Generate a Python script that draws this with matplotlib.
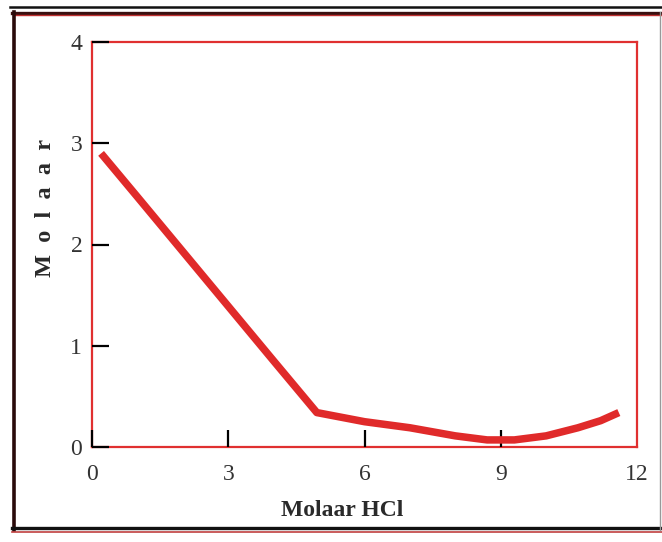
import matplotlib.pyplot as plt
from matplotlib.lines import Line2D

plt.rcParams['font.family'] = ['Liberation Serif', 'DejaVu Serif']

# data
hcl = [0.2, 1.0, 2.0, 3.0, 4.0, 4.95, 6.0, 7.0, 8.0, 8.7, 9.3, 10.0, 10.7, 11.2, 11.6]
molaar = [2.9, 2.47, 1.93, 1.39, 0.85, 0.34, 0.25, 0.19, 0.11, 0.07, 0.07, 0.11, 0.19, 0.26, 0.34]
xticks = [0, 3, 6, 9, 12]
yticks = [0, 1, 2, 3, 4]

W, H = 662, 542
fig = plt.figure(figsize=(W / 100, H / 100), dpi=100)
ax = fig.add_axes([92 / W, 1 - 447 / H, 545 / W, 405 / H])

ax.plot(hcl, molaar, color='#e02a2a', lw=5.4, solid_capstyle='butt', zorder=3)

ax.set_xlim(0, 12)
ax.set_ylim(0, 4)
ax.set_xticks(xticks)
ax.set_yticks(yticks)
ax.tick_params(direction='in', length=12, width=1.6, color='black',
               labelsize=17, labelcolor='#333333')
ax.tick_params(axis='x', pad=12)
ax.tick_params(axis='y', pad=7)
ax.xaxis.get_major_ticks()[-1].tick1line.set_visible(False)

for s in ax.spines.values():
    s.set_color('#e03030')
    s.set_linewidth(1.6)
    s.set_zorder(1)

ax.set_xlabel('Molaar HCl', fontsize=17, fontweight='bold', color='#2a2a2a')
ax.xaxis.set_label_coords(0.459, -0.13)
ax.set_ylabel('M  o  l  a  a  r', fontsize=17.5, fontweight='bold', color='#2a2a2a')
ax.yaxis.set_label_coords(-0.066, 0.59)

# outer frame
def hline(y, x0, x1, c, lw):
    fig.add_artist(Line2D([x0 / W, x1 / W], [1 - y / H, 1 - y / H], color=c, lw=lw,
                          transform=fig.transFigure))

def vline(x, y0, y1, c, lw):
    fig.add_artist(Line2D([x / W, x / W], [1 - y0 / H, 1 - y1 / H], color=c, lw=lw,
                          transform=fig.transFigure))

hline(7, 10, W, '#111111', 1.8)
hline(12.5, 12, W, '#3a1010', 2.4)
hline(15, 14, W, '#c03030', 1.0)
vline(13.5, 12, 530, '#2a0a0a', 2.6)
hline(528, 12, W, '#111111', 2.4)
hline(532, 12, W, '#c04040', 1.2)
vline(660, 12, 530, '#999999', 1.0)

fig.savefig('out.png', dpi=100)
